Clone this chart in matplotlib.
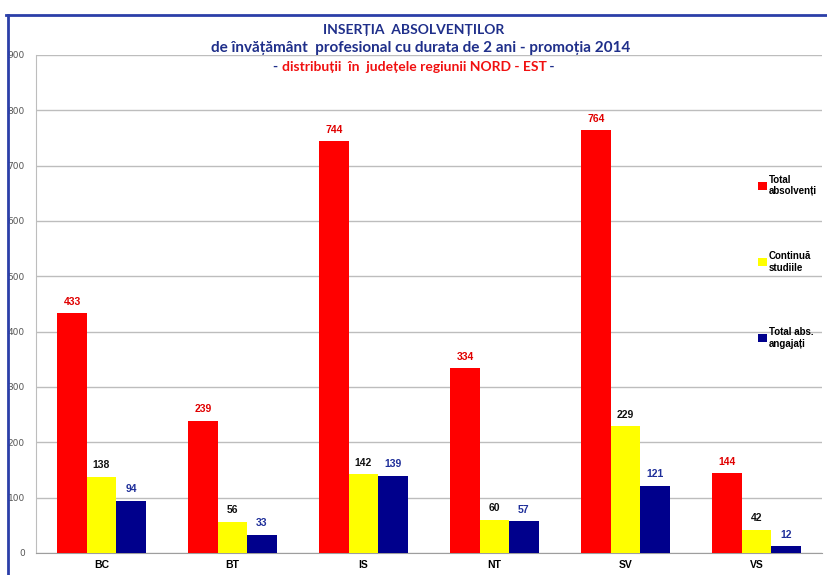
import numpy as np
import matplotlib.pyplot as plt
from matplotlib.lines import Line2D

# Donnees
judete = ['BC', 'BT', 'IS', 'NT', 'SV', 'VS']
total_absolventi = [433, 239, 744, 334, 764, 144]
continua_studiile = [138, 56, 142, 60, 229, 42]
total_angajati = [94, 33, 139, 57, 121, 12]
serii = ['Total\nabsolvenți', 'Continuă\nstudiile', 'Total abs.\nangajați']

culori = ['#FF0000', '#FFFF00', '#00008C']
culori_etichete = ['#E00000', '#111111', '#1F2F9A']

fig = plt.figure(figsize=(8.28, 5.75), dpi=100)
ax = fig.add_axes([36/828, 1-553/575, 786/828, (553-55)/575])

x = np.arange(len(judete))
w = 0.225
valori = [total_absolventi, continua_studiile, total_angajati]
for i, (v, c, ce) in enumerate(zip(valori, culori, culori_etichete)):
    ax.bar(x + (i-1)*w, v, width=w, color=c, zorder=3, label=serii[i])
    for xi, vi in zip(x + (i-1)*w, v):
        ax.text(xi, vi + 12, str(vi), ha='center', va='bottom', fontsize=7.5,
                fontweight='bold', color=ce, family='Liberation Sans', zorder=4)

ax.set_xlim(-0.5, 5.5)
ax.set_ylim(0, 900)
ax.set_yticks(np.arange(0, 901, 100))
ax.grid(axis='y', color='#BDBDBD', linewidth=1, zorder=0)
ax.tick_params(axis='y', length=0, labelsize=6.5, labelcolor='#555555', pad=8)
ax.tick_params(axis='x', length=0, pad=5)
ax.set_xticks(x)
ax.set_xticklabels(judete, fontsize=7.5, fontweight='bold', family='Liberation Sans')
for s in ['top', 'right']:
    ax.spines[s].set_visible(False)
ax.spines['left'].set_color('#BDBDBD')
ax.spines['bottom'].set_color('#9E9E9E')

leg = ax.legend(loc='upper left', bbox_to_anchor=(717/786, (553-170)/498), frameon=False,
                prop={'family': 'Liberation Sans', 'weight': 'bold', 'size': 7},
                handlelength=0.9, handleheight=0.9, handletextpad=0.2,
                labelspacing=5.6, borderpad=0)

# Cadre bleu
fig.add_artist(Line2D([8/828, 8/828], [0, 1-15/575], color='#2B3FA8', linewidth=2))
fig.add_artist(Line2D([6/828, 1], [1-15/575, 1-15/575], color='#2B3FA8', linewidth=2))

# Titre
fig.text(0.5, 1-30/575, 'INSERȚIA  ABSOLVENȚILOR', ha='center', va='center', fontsize=10,
         fontweight='bold', color='#1F2F8A', family='Lato')
fig.text(0.508, 1-48/575, 'de învățământ  profesional cu durata de 2 ani - promoția 2014', ha='center',
         va='center', fontsize=11, fontweight='bold', color='#1F2F8A', family='Lato')
t3 = fig.text(0.5, 1-71/575, 'distribuții  în  județele regiunii NORD - EST', ha='center', va='baseline',
              fontsize=10, fontweight='bold', color='#F01010', family='Lato')
ax.annotate('- ', xy=(0, 0), xycoords=t3, ha='right', va='bottom', fontsize=10,
            fontweight='bold', color='#1F2F8A', family='Lato', annotation_clip=False)
ax.annotate(' -', xy=(1, 0), xycoords=t3, ha='left', va='bottom', fontsize=10,
            fontweight='bold', color='#1F2F8A', family='Lato', annotation_clip=False)

plt.savefig('out.png', dpi=100)
